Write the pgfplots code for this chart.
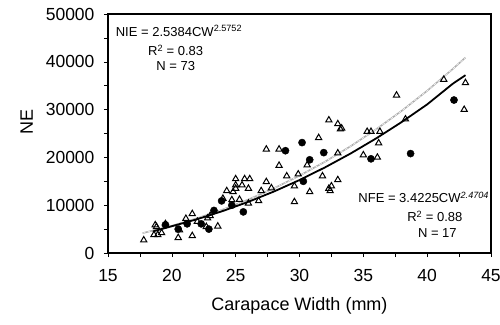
\documentclass[border=0pt]{standalone}
\usepackage{pgfplots}
\pgfplotsset{compat=1.18}
\usepackage{fontspec}
\setmainfont{Liberation Sans}
\begin{document}
\begin{tikzpicture}
\path[use as bounding box] (-108pt,-71pt) rectangle (392pt,253pt);
\begin{axis}[
  at={(0,0)}, anchor=south west,
  scale only axis, width=383pt, height=239pt,
  xmin=15, xmax=45, ymin=0, ymax=50000,
  xtick={15,20,...,45}, ytick={0,10000,...,50000},
  minor x tick num=1, minor y tick num=1,
  tick align=outside, tick pos=left,
  major tick length=4pt, minor tick length=4pt,
  scaled y ticks=false,
  /pgf/number format/assume math mode=true,
  yticklabel style={/pgf/number format/1000 sep={}},
  ticklabel style={font=\fontsize{17.5}{20}\selectfont},
  xticklabel style={yshift=-9pt},
  yticklabel style={xshift=-6pt},
  axis line style={line width=1.2pt},
  every tick/.style={black, line width=0.6pt},
  xlabel={Carapace Width (mm)},
  ylabel={NE},
  label style={font=\fontsize{18}{20}\selectfont},
  xlabel style={yshift=-9pt},
  ylabel style={yshift=6pt, xshift=12pt},
  clip=false,
]
% NIE regression (grey)
\addplot[gray!65, line width=1.6pt] coordinates {
(17.7,4153) (20,5686) (22,7270) (24,9098) (26,11184) (28,13545) (30,16175)
(32,19099) (34,22330) (36,25871) (38,29735) (40,33938) (42,38485) (43,40898)};
\addplot[white, line width=0.5pt, densely dashed] coordinates {
(17.7,4153) (20,5686) (22,7270) (24,9098) (26,11184) (28,13545) (30,16175)
(32,19099) (34,22330) (36,25871) (38,29735) (40,33938) (42,38485) (43,40898)};
% NFE regression (black)
\addplot[black, line width=1.8pt] coordinates {
(18.5,4500) (20,5601) (22,7088) (24,8790) (26,10712) (28,12866) (30,15261)
(32,17914) (34,20812) (36,23967) (38,27390) (40,31087) (42,35400) (43,37200)};
% NIE data (open triangles)
\addplot[only marks, mark=triangle, mark size=3.6pt, mark options={line width=1pt, fill=white}, black] coordinates {
(17.8,2700) (18.6,3800) (18.9,3800) (18.8,5500) (18.7,5860) (19.5,6100) (19.2,4200)
(20.5,3200) (20.6,4800) (21.1,7200) (21.6,3600) (21.6,8200) (22.0,6600)
(22.7,5500) (22.8,7300) (23.0,7800) (23.6,5600) (24.0,11400) (24.3,13000) (24.7,11100) (24.8,12800)
(25.0,15500) (25.0,13500) (25.0,14200) (25.7,15500) (26.1,15500) (26.0,13500) (25.5,14200)
(25.3,11200) (26.0,10400) (26.8,10900) (27.0,13000) (27.4,14900) (27.8,13600)
(27.4,21700) (28.4,21700) (28.4,18300) (29.0,16100) (29.6,14000) (29.6,10700)
(29.9,16500) (30.6,18400) (30.8,12800) (31.5,24100) (31.8,16100) (32.3,27800)
(32.3,13500) (32.5,14000) (32.4,13000) (33.0,27000) (33.0,15300) (33.2,25900)
(33.0,20900) (33.3,26100) (35.3,25400) (35.6,25400) (36.3,25400) (35.0,20500)
(36.1,20000) (36.2,23000) (37.6,33000) (38.3,28000) (41.3,36300) (43.0,35600)
(42.9,30000)};
% NFE data (filled circles)
\addplot[only marks, mark=*, mark size=3.6pt, black] coordinates {
(19.5,5900) (20.5,5000) (21.2,6100) (22.3,6100) (22.9,5000) (23.3,8900)
(23.9,10900) (25.6,8600) (24.7,10000) (28.9,21400) (30.2,23100) (30.3,15000)
(30.8,19500) (31.9,21000) (35.6,19700) (38.7,20800) (42.1,32000)};
% frame (top and right)
\draw[black, line width=1.4pt] (axis cs:15,49850) -- (axis cs:44.94,49850) -- (axis cs:44.94,0);
% equations
\node[anchor=west, font=\fontsize{13}{15}\selectfont, inner sep=0pt] at (axis cs:15.6,46500)
  {NIE = 2.5384CW\textsuperscript{2.5752}};
\node[font=\fontsize{13}{15}\selectfont, inner sep=0pt] at (axis cs:20.3,42400)
  {R\textsuperscript{2} = 0.83};
\node[font=\fontsize{13}{15}\selectfont, inner sep=0pt] at (axis cs:20.3,39100)
  {N = 73};
\node[anchor=west, font=\fontsize{13}{15}\selectfont, inner sep=0pt] at (axis cs:34.6,11700)
  {NFE = 3.4225CW\textsuperscript{\itshape 2.4704}};
\node[font=\fontsize{13}{15}\selectfont, inner sep=0pt] at (axis cs:40.6,7700)
  {R\textsuperscript{2} = 0.88};
\node[font=\fontsize{13}{15}\selectfont, inner sep=0pt] at (axis cs:40.8,4200)
  {N = 17};
\end{axis}
\end{tikzpicture}
\end{document}
